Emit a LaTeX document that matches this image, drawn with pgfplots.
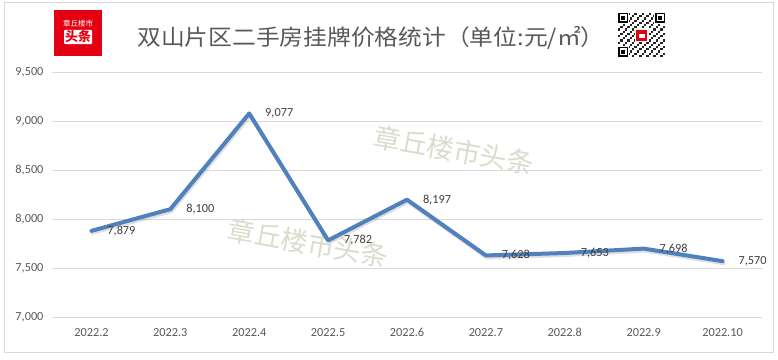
\documentclass[border=0pt]{standalone}
\usepackage{pgfplots}
\pgfplotsset{compat=1.18}
\usepackage{fontspec}
\setmainfont{Carlito}
\newfontfamily\cjk{Noto Sans CJK SC}
\definecolor{lineblue}{RGB}{79,129,189}
\definecolor{gridgray}{RGB}{217,217,217}
\definecolor{ticktext}{RGB}{89,89,89}
\definecolor{labeltext}{RGB}{64,64,64}
\definecolor{wm}{RGB}{216,221,204}
\definecolor{logored}{RGB}{228,0,18}
\pgfplotstableread{
x y
0 7879
1 8100
2 9077
3 7782
4 8197
5 7628
6 7653
7 7698
8 7570
}\pricedata
\begin{document}
\begin{tikzpicture}[x=1pt,y=1pt]
\useasboundingbox (0,0) rectangle (778,359);
\fill[white] (0,0) rectangle (778,359);
\draw[gridgray, line width=1pt] (4,7) rectangle (773,356);
% logo
\fill[logored] (54,303) rectangle (102,349);
\node[white, font=\cjk\fontsize{7.5}{8}\selectfont] at (78,335) {章丘楼市};
\node[fill=white, rounded corners=1pt, inner sep=1pt, text=logored, font=\cjk\bfseries\fontsize{13}{14}\selectfont] at (78,322) {头条};
% title
\node[text=ticktext, xscale=1.08, font=\cjk\fontsize{22}{24}\selectfont] at (371,321) {双山片区二手房挂牌价格统计（单位:元/㎡）};
% QR-like mark
\fill[white] (618,302) rectangle (665,346);
\foreach \i in {0,...,19}{
  \foreach \j in {0,...,19}{
    \pgfmathtruncatemacro{\on}{mod(\i*\i+3*\j+\i*\j+\j*\j,3)==0 ? 1 : 0}
    \ifnum\on=1
      \fill[black!85] ({618+\i*2.35},{302+\j*2.2}) rectangle ++(2.35,2.2);
    \fi
  }
}
\foreach \qx/\qy in {618/336, 655/336, 618/302}{
  \fill[white] (\qx-1,\qy-1) rectangle ++(12,12);
  \fill[black] (\qx,\qy) rectangle ++(10,10);
  \fill[white] (\qx+1.5,\qy+1.5) rectangle ++(7,7);
  \fill[black] (\qx+3,\qy+3) rectangle ++(4,4);
}
\fill[white] (634.5,316.5) rectangle (648.5,330.5);
\fill[logored] (636,318) rectangle (647,329);
\fill[white] (638.5,321) rectangle (644.5,325);
% watermarks
\node[text=wm, rotate=-10, font=\cjk\fontsize{27}{28}\selectfont] at (454,209) {章丘楼市头条};
\node[text=wm, rotate=-10, font=\cjk\fontsize{27}{28}\selectfont] at (308,116) {章丘楼市头条};
\begin{axis}[
  at={(52pt,42pt)}, anchor=south west,
  scale only axis, width=710pt, height=245pt,
  xmin=-0.5, xmax=8.5, ymin=7000, ymax=9500,
  ytick={7000,7500,8000,8500,9000,9500},
  xtick={0,1,2,3,4,5,6,7,8},
  xticklabels={2022.2,2022.3,2022.4,2022.5,2022.6,2022.7,2022.8,2022.9,2022.10},
  ymajorgrids, grid style={gridgray, line width=0.9pt},
  axis line style={draw=none}, major tick length=0pt,
  tick label style={text=ticktext, font=\fontsize{12.3}{14}\selectfont},
  yticklabel style={xshift=-5pt, /pgf/number format/1000 sep={,}, /pgf/number format/assume math mode=true},
  scaled y ticks=false,
  xticklabel style={yshift=-8pt},
  clip=false,
]
\addplot[gray, opacity=0.25, line width=4pt, line join=round, line cap=round, forget plot, transform canvas={xshift=1pt, yshift=-2pt}] table[x=x, y=y] {\pricedata};
\addplot[lineblue, line width=4pt, line join=round, line cap=round,
  nodes near coords, point meta=y,
  every node near coord/.append style={anchor=west, xshift=14pt, inner sep=0pt, text=labeltext,
     font=\fontsize{12.3}{14}\selectfont,
     /pgf/number format/1000 sep={,}, /pgf/number format/assume math mode=true}]
  table[x=x, y=y] {\pricedata};
\end{axis}
\end{tikzpicture}
\end{document}
